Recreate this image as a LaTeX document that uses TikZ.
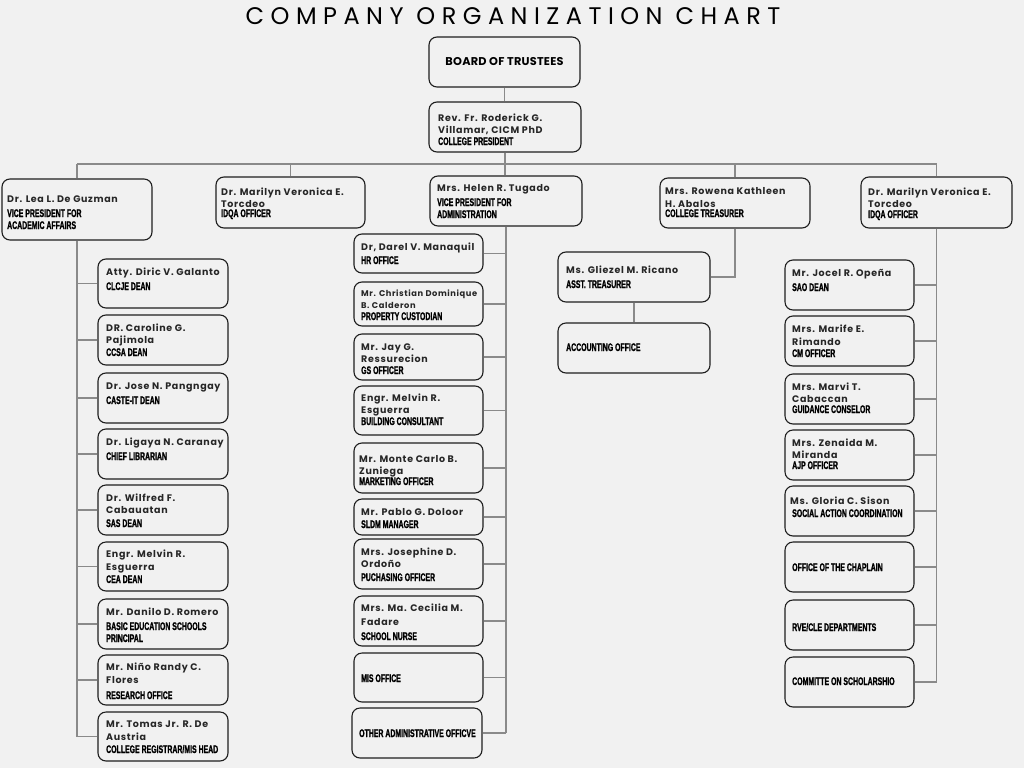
\documentclass[tikz,border=0pt]{standalone}
\usepackage{fontspec}
\setmainfont{Poppins}
\newfontfamily\nmfont{Poppins}[LetterSpace=7]
\newfontfamily\rlfont{Liberation Sans}[FakeStretch=0.63, BoldFeatures={FakeBold=1.2}]
\newfontfamily\ttlfont{Poppins}[LetterSpace=27]
\newfontfamily\bdfont{Poppins}[LetterSpace=2]
\definecolor{bgc}{HTML}{F1F1F1}
\definecolor{boxc}{HTML}{1E1E1E}
\definecolor{linec}{HTML}{8A8A8A}
\newcounter{tn}
\newcommand\obox[5]{\node[orgbox, minimum width={(#4-#2)*1pt}, minimum height={(#5-#3)*1pt}] (#1) at ({(#2+#4)/2},{(#3+#5)/2}) {};}
\newcommand\nmline[3]{\stepcounter{tn}\node[nmtxt] (t\arabic{tn}) at (#1,#2) {#3};}
\newcommand\smline[3]{\stepcounter{tn}\node[nmtxt,font={\nmfont\bfseries\fontsize{8.3pt}{9pt}\selectfont}] (t\arabic{tn}) at (#1,#2) {#3};}
\newcommand\rlline[3]{\stepcounter{tn}\node[rltxt] (t\arabic{tn}) at (#1,#2) {#3};}
\tikzset{
  orgbox/.style={draw=boxc, line width=1.1pt, rounded corners=8pt, fill=bgc, inner sep=0pt},
  conn/.style={draw=linec, line width=1.4pt},
  nmtxt/.style={anchor=base west, inner sep=0pt, text=black!85, font={\nmfont\bfseries\fontsize{9.5pt}{10pt}\selectfont}},
  rltxt/.style={anchor=base west, inner sep=0pt, text=black, font={\rlfont\bfseries\fontsize{11pt}{12pt}\selectfont}}
}
\begin{document}
\begin{tikzpicture}[x=1pt,y=-1pt]
\fill[bgc] (0,0) rectangle (1024,768);
\useasboundingbox (0,0) rectangle (1024,768);
\node[anchor=base, inner sep=0pt, font={\ttlfont\fontsize{24pt}{26pt}\selectfont}] (title) at (513,25) {COMPANY ORGANIZATION CHART};

% top level boxes
\obox{board}{429}{37}{580}{87}
\obox{pres}{429}{102}{581}{152}
\obox{lea}{2}{179}{152}{240}
\obox{mar1}{216}{177}{365}{228}
\obox{helen}{430}{176}{582}{226}
\obox{row}{660}{178}{810}{228}
\obox{mar2}{861}{177}{1012}{228}
% left column
\obox{L1}{98}{259}{228}{308}
\obox{L2}{98}{315}{228}{365}
\obox{L3}{98}{373}{228}{423}
\obox{L4}{98}{429}{228}{479}
\obox{L5}{98}{485}{228}{535}
\obox{L6}{98}{542}{228}{591}
\obox{L7}{98}{599}{228}{649}
\obox{L8}{98}{655}{228}{705}
\obox{L9}{98}{712}{228}{761}
% middle column
\obox{M1}{354}{234}{483}{273}
\obox{M2}{354}{282}{483}{326}
\obox{M3}{354}{334}{483}{380}
\obox{M4}{354}{386}{483}{435}
\obox{M5}{354}{443}{483}{493}
\obox{M6}{354}{499}{483}{535}
\obox{M7}{354}{539}{483}{589}
\obox{M8}{354}{596}{483}{646}
\obox{M9}{354}{653}{483}{702}
\obox{M10}{352}{708}{482}{758}
% treasurer branch
\obox{ric}{558}{252}{710}{302}
\obox{acct}{558}{323}{710}{373}
% right column
\obox{R1}{785}{260}{914}{310}
\obox{R2}{785}{316}{914}{366}
\obox{R3}{785}{374}{914}{424}
\obox{R4}{785}{430}{914}{480}
\obox{R5}{785}{486}{914}{536}
\obox{R6}{785}{542}{914}{592}
\obox{R7}{785}{600}{914}{650}
\obox{R8}{785}{657}{914}{707}

% connectors
\coordinate (hb) at (505,164);
\draw[conn] (board.south) -- (board.south |- pres.north);
\draw[conn] (pres.south) -- (pres.south |- helen.north);
\draw[conn] (lea.north |- hb) -- (mar2.north |- hb);
\foreach \n in {lea,mar1,row,mar2} \draw[conn] (\n.north) -- (\n.north |- hb);
\draw[conn] (lea.south) -- (lea.south |- L9.west);
\foreach \n in {L1,L2,L3,L4,L5,L6,L7,L8,L9} \draw[conn] (\n.west) -- (\n.west -| lea.south);
\draw[conn] (helen.south) -- (helen.south |- M10.east);
\foreach \n in {M1,M2,M3,M4,M5,M6,M7,M8,M9,M10} \draw[conn] (\n.east) -- (\n.east -| helen.south);
\draw[conn] (row.south) |- (ric.east);
\draw[conn] (ric.south) -- (acct.north);
\draw[conn] (mar2.south) -- (mar2.south |- R8.east);
\foreach \n in {R1,R2,R3,R4,R5,R6,R7,R8} \draw[conn] (\n.east) -- (\n.east -| mar2.south);

% texts
\node[inner sep=0pt, font={\bdfont\bfseries\fontsize{11.3pt}{12pt}\selectfont}] (tb) at (board.center) {BOARD OF TRUSTEES};
\nmline{438}{121}{Rev. Fr. Roderick G.}
\nmline{438}{133}{Villamar, CICM PhD}
\rlline{438}{145}{COLLEGE PRESIDENT}
\nmline{7}{202}{Dr. Lea L. De Guzman}
\rlline{7}{217}{VICE PRESIDENT FOR}
\rlline{7}{229}{ACADEMIC AFFAIRS}
\nmline{221}{195}{Dr. Marilyn Veronica E.}
\nmline{221}{207}{Torcdeo}
\rlline{221}{217}{IDQA OFFICER}
\nmline{437}{191}{Mrs. Helen R. Tugado}
\rlline{437}{206}{VICE PRESIDENT FOR}
\rlline{437}{218}{ADMINISTRATION}
\nmline{665}{194}{Mrs. Rowena Kathleen}
\nmline{665}{207}{H. Abalos}
\rlline{665}{217}{COLLEGE TREASURER}
\nmline{868}{195}{Dr. Marilyn Veronica E.}
\nmline{868}{207}{Torcdeo}
\rlline{868}{218}{IDQA OFFICER}
% left
\nmline{106}{275}{Atty. Diric V. Galanto}
\rlline{106}{290}{CLCJE DEAN}
\nmline{106}{331}{DR. Caroline G.}
\nmline{106}{343}{Pajimola}
\rlline{106}{356}{CCSA DEAN}
\nmline{106}{389}{Dr. Jose N. Pangngay}
\rlline{106}{404}{CASTE-IT DEAN}
\nmline{106}{445}{Dr. Ligaya N. Caranay}
\rlline{106}{460}{CHIEF LIBRARIAN}
\nmline{106}{501}{Dr. Wilfred F.}
\nmline{106}{513}{Cabauatan}
\rlline{106}{527}{SAS DEAN}
\nmline{106}{557}{Engr. Melvin R.}
\nmline{106}{570}{Esguerra}
\rlline{106}{583}{CEA DEAN}
\nmline{106}{615}{Mr. Danilo D. Romero}
\rlline{106}{630}{BASIC EDUCATION SCHOOLS}
\rlline{106}{642}{PRINCIPAL}
\nmline{106}{670}{Mr. Niño Randy C.}
\nmline{106}{683}{Flores}
\rlline{106}{699}{RESEARCH OFFICE}
\nmline{106}{727}{Mr. Tomas Jr. R. De}
\nmline{106}{740}{Austria}
\rlline{106}{753}{COLLEGE REGISTRAR/MIS HEAD}
% middle
\nmline{361}{250}{Dr, Darel V. Manaquil}
\rlline{361}{264}{HR OFFICE}
\smline{361}{296}{Mr. Christian Dominique}
\smline{361}{308}{B. Calderon}
\rlline{361}{320}{PROPERTY CUSTODIAN}
\nmline{361}{350}{Mr. Jay G.}
\nmline{361}{362}{Ressurecion}
\rlline{361}{374}{GS OFFICER}
\nmline{361}{401}{Engr. Melvin R.}
\nmline{361}{413}{Esguerra}
\rlline{361}{425}{BUILDING CONSULTANT}
\nmline{359}{462}{Mr. Monte Carlo B.}
\nmline{359}{474}{Zuniega}
\rlline{359}{485}{MARKETING OFFICER}
\nmline{361}{515}{Mr. Pablo G. Doloor}
\rlline{361}{528}{SLDM MANAGER}
\nmline{361}{555}{Mrs. Josephine D.}
\nmline{361}{567}{Ordoño}
\rlline{361}{581}{PUCHASING OFFICER}
\nmline{361}{611}{Mrs. Ma. Cecilia M.}
\nmline{361}{625}{Fadare}
\rlline{361}{640}{SCHOOL NURSE}
\rlline{361}{682}{MIS OFFICE}
\rlline{359}{737}{OTHER ADMINISTRATIVE OFFICVE}
% treasurer branch
\nmline{566}{273}{Ms. Gliezel M. Ricano}
\rlline{566}{288}{ASST. TREASURER}
\rlline{566}{351}{ACCOUNTING OFFICE}
% right
\nmline{792}{276}{Mr. Jocel R. Opeña}
\rlline{792}{291}{SAO DEAN}
\nmline{792}{332}{Mrs. Marife E.}
\nmline{792}{345}{Rimando}
\rlline{792}{357}{CM OFFICER}
\nmline{792}{390}{Mrs. Marvi T.}
\nmline{792}{402}{Cabaccan}
\rlline{792}{413}{GUIDANCE CONSELOR}
\nmline{792}{446}{Mrs. Zenaida M.}
\nmline{792}{458}{Miranda}
\rlline{792}{469}{AJP OFFICER}
\nmline{790}{504}{Ms. Gloria C. Sison}
\rlline{792}{517}{SOCIAL ACTION COORDINATION}
\rlline{792}{571}{OFFICE OF THE CHAPLAIN}
\rlline{792}{631}{RVE/CLE DEPARTMENTS}
\rlline{792}{685}{COMMITTE ON SCHOLARSHIO}
\end{tikzpicture}
\end{document}
